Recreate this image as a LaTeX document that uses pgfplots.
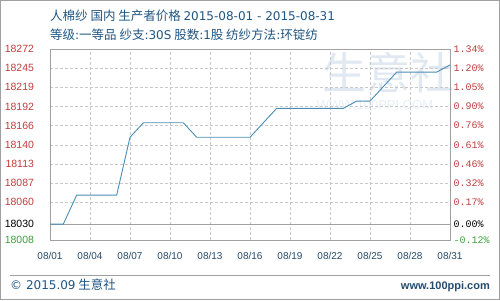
\documentclass[border=0pt]{standalone}
\usepackage{fontspec}
\setmainfont{Liberation Sans}
\newfontfamily\cjk{Noto Sans CJK SC}
\newfontfamily\lat{DejaVu Sans}
\newfontfamily\monof{Liberation Mono}
\usepackage{pgfplots}
\pgfplotsset{compat=1.18}
\definecolor{titleblue}{RGB}{31,85,130}
\definecolor{linecol}{RGB}{74,140,180}
\definecolor{gridcol}{RGB}{200,200,200}
\definecolor{axcol}{RGB}{160,160,160}
\definecolor{labred}{RGB}{192,60,60}
\definecolor{labgreen}{RGB}{60,160,60}
\definecolor{wm}{RGB}{224,232,242}
\definecolor{tickblue}{RGB}{35,75,110}

\pgfplotstableread{
day price
1 18030
2 18030
3 18070
4 18070
5 18070
6 18070
7 18150
8 18170
9 18170
10 18170
11 18170
12 18150
13 18150
14 18150
15 18150
16 18150
17 18170
18 18190
19 18190
20 18190
21 18190
22 18190
23 18190
24 18200
25 18200
26 18220
27 18240
28 18240
29 18240
30 18240
31 18250
}\pricedata

\begin{document}
\begin{tikzpicture}
\path[use as bounding box] (0pt,0pt) rectangle (500pt,300pt);
\draw[axcol, line width=0.8pt] (0.4pt,0.4pt) rectangle (499.6pt,299.6pt);
% watermark
\node[text=wm, font=\cjk\fontsize{44}{44}\selectfont, anchor=center] at (388pt,227pt) {生意社};
\node[text=wm!70, font=\fontsize{13}{13}\selectfont, anchor=center] at (375pt,195pt) {WWW.100PPI.COM};

\begin{axis}[
  at={(50pt,60pt)}, anchor=south west,
  scale only axis, width=400pt, height=191pt,
  xmin=1, xmax=31, ymin=18008, ymax=18272,
  scaled y ticks=false, scaled x ticks=false,
  axis line style={axcol, line width=0.8pt},
  major tick length=0pt,
  xtick={1,4,7,10,13,16,19,22,25,28,31},
  xticklabels={08/01,08/04,08/07,08/10,08/13,08/16,08/19,08/22,08/25,08/28,08/31},
  xticklabel style={font=\fontsize{10}{12}\selectfont, text=tickblue, yshift=-9pt},
  ytick={18008,18060,18086.5,18113,18139.5,18166,18192.5,18219,18245.5,18272},
  yticklabels={\textcolor{labgreen}{18008},\textcolor{labred}{18060},\textcolor{labred}{18087},\textcolor{labred}{18113},\textcolor{labred}{18140},\textcolor{labred}{18166},\textcolor{labred}{18192},\textcolor{labred}{18219},\textcolor{labred}{18245},\textcolor{labred}{18272}},
  yticklabel style={font=\fontsize{10.5}{12}\selectfont, xshift=-12.5pt},
  extra y ticks={18030},
  extra y tick labels={\textcolor{black}{18030}},
  extra y tick style={major grid style={solid, axcol, line width=0.8pt}},
  xmajorgrids, ymajorgrids,
  grid style={gridcol, dash pattern=on 3pt off 2pt, line width=0.6pt},
  clip=false,
]
\addplot[linecol, line width=0.9pt, mark=none] table[x=day, y=price] {\pricedata};
\end{axis}

\begin{axis}[
  at={(50pt,60pt)}, anchor=south west,
  scale only axis, width=400pt, height=191pt,
  xmin=1, xmax=31, ymin=18008, ymax=18272,
  scaled y ticks=false,
  axis y line*=right, axis x line=none,
  axis line style={axcol, line width=0.8pt},
  major tick length=0pt,
  ytick={18008,18030,18060,18086.5,18113,18139.5,18166,18192.5,18219,18245.5,18272},
  yticklabels={\textcolor{labgreen}{-0.12\%},\textcolor{black}{0.00\%},\textcolor{labred}{0.17\%},\textcolor{labred}{0.32\%},\textcolor{labred}{0.46\%},\textcolor{labred}{0.61\%},\textcolor{labred}{0.76\%},\textcolor{labred}{0.90\%},\textcolor{labred}{1.05\%},\textcolor{labred}{1.20\%},\textcolor{labred}{1.34\%}},
  yticklabel style={font=\monof\fontsize{10}{12}\selectfont},
]
\addplot[draw=none] coordinates {(1,18030)};
\end{axis}

\node[anchor=base west, text=titleblue, font=\cjk\fontsize{12.5}{14}\selectfont, inner sep=0pt] at (50pt,279pt) {人棉纱 国内 生产者价格 {\lat\fontsize{12}{14}\selectfont 2015-08-01 - 2015-08-31}};
\node[anchor=base west, text=titleblue, font=\cjk\fontsize{12.5}{14}\selectfont, inner sep=0pt] at (50pt,260pt) {等级{\lat\fontsize{12}{14}\selectfont :}一等品 纱支{\lat\fontsize{12}{14}\selectfont :30S} 股数{\lat\fontsize{12}{14}\selectfont :1}股 纺纱方法{\lat\fontsize{12}{14}\selectfont :}环锭纺};
\draw[axcol, line width=0.8pt] (10pt,25pt) -- (490pt,25pt);
\node[anchor=base west, text=titleblue, font=\cjk\fontsize{12.5}{14}\selectfont, inner sep=0pt] at (10pt,11pt) {{\lat\fontsize{12}{14}\selectfont © 2015.09} 生意社};
\node[anchor=base east, text=tickblue, font=\fontsize{11}{13}\selectfont\bfseries, inner sep=0pt] at (490pt,11pt) {www.100ppi.com};
\end{tikzpicture}
\end{document}
